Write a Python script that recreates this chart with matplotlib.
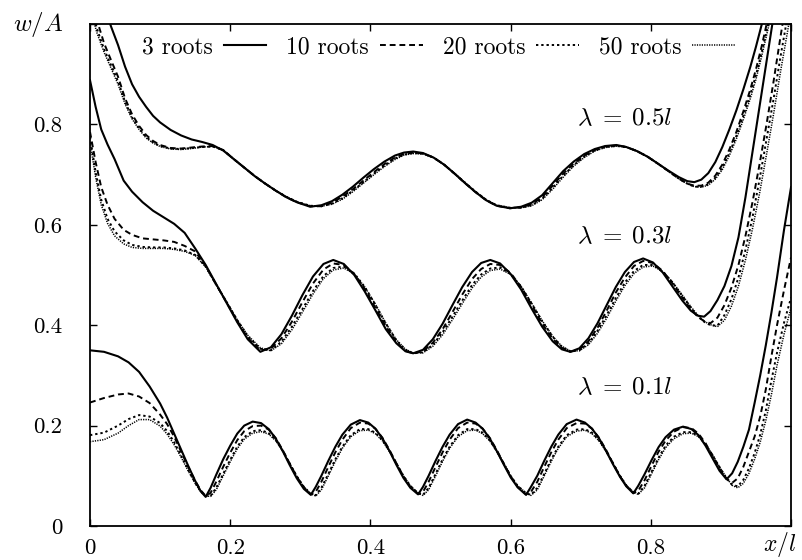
import matplotlib
matplotlib.use("Agg")
from matplotlib import pyplot as plt

plt.rcParams['font.family'] = 'cmr10'
plt.rcParams['mathtext.fontset'] = 'cm'
plt.rcParams['axes.unicode_minus'] = False

# lambda = 0.1 l
x1 = [0.000, 0.020, 0.040, 0.055, 0.070, 0.085, 0.100, 0.110, 0.120, 0.130,
      0.140, 0.150, 0.158, 0.165, 0.172, 0.180, 0.190, 0.200, 0.210, 0.220,
      0.232, 0.244, 0.255, 0.265, 0.275, 0.285, 0.295, 0.305, 0.315, 0.322,
      0.330, 0.340, 0.350, 0.360, 0.372, 0.385, 0.397, 0.407, 0.417, 0.427,
      0.437, 0.447, 0.457, 0.468, 0.475, 0.483, 0.493, 0.503, 0.513, 0.525,
      0.538, 0.550, 0.560, 0.570, 0.580, 0.590, 0.600, 0.610, 0.622, 0.629,
      0.638, 0.648, 0.658, 0.668, 0.680, 0.694, 0.706, 0.716, 0.726, 0.736,
      0.746, 0.756, 0.765, 0.775, 0.782, 0.791, 0.801, 0.811, 0.821, 0.833,
      0.846, 0.858, 0.868, 0.878, 0.888, 0.898, 0.908, 0.916, 0.924, 0.932,
      0.940, 0.948, 0.956, 0.964, 0.972, 0.980, 0.990, 1.000]
y3_01 = [0.350, 0.347, 0.338, 0.326, 0.307, 0.278, 0.244, 0.216, 0.184, 0.152,
         0.120, 0.090, 0.069, 0.058, 0.076, 0.102, 0.133, 0.160, 0.184, 0.200,
         0.208, 0.205, 0.193, 0.174, 0.149, 0.121, 0.095, 0.074, 0.062, 0.078,
         0.100, 0.130, 0.158, 0.182, 0.202, 0.211, 0.206, 0.194, 0.175, 0.150,
         0.122, 0.096, 0.076, 0.063, 0.078, 0.100, 0.130, 0.158, 0.182, 0.203,
         0.212, 0.206, 0.194, 0.175, 0.150, 0.123, 0.097, 0.077, 0.062, 0.078,
         0.100, 0.130, 0.158, 0.182, 0.203, 0.212, 0.206, 0.194, 0.175, 0.150,
         0.123, 0.098, 0.079, 0.065, 0.080, 0.103, 0.131, 0.157, 0.177, 0.192,
         0.198, 0.193, 0.181, 0.160, 0.135, 0.110, 0.093, 0.105, 0.128, 0.158,
         0.192, 0.245, 0.300, 0.360, 0.425, 0.495, 0.590, 0.675]
y10_01 = [0.246, 0.255, 0.262, 0.264, 0.258, 0.245, 0.222, 0.203, 0.178, 0.148,
          0.118, 0.090, 0.071, 0.060, 0.066, 0.088, 0.118, 0.146, 0.171, 0.189,
          0.199, 0.200, 0.192, 0.175, 0.151, 0.124, 0.098, 0.077, 0.063, 0.068,
          0.088, 0.118, 0.147, 0.172, 0.195, 0.206, 0.204, 0.194, 0.176, 0.152,
          0.125, 0.099, 0.078, 0.064, 0.068, 0.088, 0.118, 0.147, 0.172, 0.195,
          0.206, 0.204, 0.194, 0.176, 0.152, 0.125, 0.099, 0.078, 0.063, 0.068,
          0.088, 0.118, 0.147, 0.172, 0.195, 0.205, 0.204, 0.194, 0.176, 0.152,
          0.125, 0.099, 0.080, 0.066, 0.070, 0.091, 0.120, 0.148, 0.170, 0.188,
          0.197, 0.195, 0.184, 0.165, 0.140, 0.114, 0.094, 0.086, 0.095, 0.118,
          0.148, 0.178, 0.218, 0.272, 0.338, 0.400, 0.470, 0.535]
y20_01 = [0.181, 0.186, 0.200, 0.213, 0.221, 0.218, 0.205, 0.189, 0.167, 0.140,
          0.112, 0.086, 0.069, 0.060, 0.060, 0.076, 0.104, 0.132, 0.158, 0.177,
          0.189, 0.191, 0.185, 0.171, 0.150, 0.124, 0.099, 0.078, 0.064, 0.061,
          0.076, 0.104, 0.133, 0.158, 0.181, 0.193, 0.193, 0.186, 0.171, 0.150,
          0.125, 0.100, 0.080, 0.065, 0.062, 0.076, 0.104, 0.133, 0.158, 0.181,
          0.193, 0.193, 0.186, 0.171, 0.150, 0.125, 0.100, 0.080, 0.065, 0.062,
          0.076, 0.104, 0.133, 0.158, 0.181, 0.192, 0.193, 0.186, 0.171, 0.150,
          0.125, 0.100, 0.081, 0.067, 0.064, 0.080, 0.108, 0.136, 0.160, 0.178,
          0.187, 0.187, 0.179, 0.163, 0.141, 0.117, 0.095, 0.082, 0.079, 0.092,
          0.115, 0.145, 0.182, 0.230, 0.290, 0.345, 0.405, 0.455]
y50_01 = [0.168, 0.172, 0.185, 0.200, 0.212, 0.212, 0.199, 0.183, 0.162, 0.137,
          0.110, 0.085, 0.068, 0.060, 0.059, 0.072, 0.100, 0.128, 0.154, 0.173,
          0.185, 0.188, 0.183, 0.170, 0.149, 0.124, 0.099, 0.078, 0.064, 0.060,
          0.072, 0.100, 0.129, 0.155, 0.178, 0.190, 0.191, 0.184, 0.170, 0.149,
          0.125, 0.100, 0.080, 0.066, 0.061, 0.072, 0.100, 0.129, 0.155, 0.178,
          0.190, 0.191, 0.184, 0.170, 0.149, 0.125, 0.100, 0.080, 0.066, 0.061,
          0.072, 0.100, 0.129, 0.155, 0.178, 0.189, 0.191, 0.184, 0.170, 0.149,
          0.125, 0.100, 0.081, 0.068, 0.063, 0.076, 0.104, 0.132, 0.156, 0.174,
          0.184, 0.185, 0.178, 0.163, 0.142, 0.118, 0.096, 0.081, 0.076, 0.085,
          0.105, 0.133, 0.167, 0.210, 0.262, 0.320, 0.382, 0.435]

# lambda = 0.3 l
x3 = [0.000, 0.008, 0.016, 0.025, 0.035, 0.048, 0.060, 0.075, 0.090, 0.105,
      0.120, 0.135, 0.150, 0.165, 0.180, 0.195, 0.210, 0.225, 0.243, 0.258,
      0.273, 0.288, 0.303, 0.318, 0.333, 0.347, 0.362, 0.377, 0.392, 0.407,
      0.422, 0.437, 0.450, 0.461, 0.475, 0.489, 0.503, 0.517, 0.531, 0.545,
      0.558, 0.571, 0.585, 0.600, 0.615, 0.630, 0.645, 0.660, 0.673, 0.685,
      0.698, 0.711, 0.724, 0.737, 0.750, 0.763, 0.776, 0.789, 0.803, 0.817,
      0.831, 0.845, 0.857, 0.867, 0.876, 0.885, 0.895, 0.905, 0.915, 0.925,
      0.935, 0.945, 0.955, 0.965, 0.975, 0.985, 0.995, 1.000]
y3_03 = [0.888, 0.835, 0.790, 0.760, 0.731, 0.688, 0.666, 0.645, 0.628, 0.615,
         0.602, 0.584, 0.553, 0.520, 0.482, 0.444, 0.406, 0.372, 0.347, 0.356,
         0.382, 0.419, 0.460, 0.497, 0.522, 0.530, 0.522, 0.500, 0.467, 0.430,
         0.392, 0.364, 0.348, 0.344, 0.351, 0.372, 0.403, 0.440, 0.476, 0.506,
         0.524, 0.530, 0.523, 0.502, 0.471, 0.433, 0.397, 0.368, 0.352, 0.347,
         0.354, 0.374, 0.404, 0.440, 0.476, 0.506, 0.526, 0.533, 0.525, 0.505,
         0.477, 0.449, 0.429, 0.419, 0.417, 0.428, 0.450, 0.478, 0.518, 0.575,
         0.655, 0.745, 0.835, 0.925, 1.015, 1.100, 1.180, 1.220]
y10_03 = [0.785, 0.725, 0.675, 0.640, 0.612, 0.590, 0.580, 0.573, 0.571, 0.569,
          0.566, 0.558, 0.547, 0.518, 0.481, 0.445, 0.408, 0.375, 0.350, 0.353,
          0.374, 0.407, 0.446, 0.483, 0.511, 0.523, 0.520, 0.502, 0.472, 0.435,
          0.398, 0.366, 0.349, 0.344, 0.348, 0.365, 0.392, 0.426, 0.461, 0.492,
          0.512, 0.522, 0.520, 0.504, 0.476, 0.440, 0.403, 0.373, 0.355, 0.347,
          0.351, 0.368, 0.395, 0.429, 0.465, 0.495, 0.518, 0.528, 0.524, 0.508,
          0.483, 0.455, 0.432, 0.417, 0.408, 0.404, 0.415, 0.440, 0.475, 0.520,
          0.578, 0.645, 0.720, 0.800, 0.885, 0.975, 1.060, 1.100]
y20_03 = [0.775, 0.705, 0.650, 0.612, 0.587, 0.569, 0.560, 0.556, 0.555, 0.555,
          0.553, 0.549, 0.540, 0.517, 0.481, 0.446, 0.410, 0.378, 0.353, 0.350,
          0.367, 0.397, 0.432, 0.468, 0.498, 0.514, 0.517, 0.503, 0.476, 0.441,
          0.403, 0.370, 0.351, 0.344, 0.346, 0.361, 0.386, 0.417, 0.449, 0.480,
          0.501, 0.513, 0.515, 0.502, 0.477, 0.443, 0.408, 0.377, 0.357, 0.348,
          0.350, 0.364, 0.389, 0.420, 0.454, 0.485, 0.508, 0.520, 0.520, 0.507,
          0.485, 0.458, 0.435, 0.418, 0.407, 0.400, 0.399, 0.420, 0.452, 0.495,
          0.550, 0.615, 0.690, 0.770, 0.850, 0.935, 1.015, 1.055]
y50_03 = [0.765, 0.695, 0.640, 0.603, 0.578, 0.562, 0.555, 0.553, 0.553, 0.553,
          0.551, 0.547, 0.539, 0.516, 0.480, 0.446, 0.411, 0.380, 0.355, 0.349,
          0.363, 0.391, 0.426, 0.462, 0.493, 0.510, 0.514, 0.502, 0.476, 0.442,
          0.404, 0.371, 0.352, 0.345, 0.345, 0.358, 0.381, 0.411, 0.443, 0.474,
          0.496, 0.509, 0.512, 0.501, 0.477, 0.444, 0.409, 0.378, 0.358, 0.349,
          0.349, 0.361, 0.384, 0.414, 0.448, 0.479, 0.503, 0.516, 0.518, 0.507,
          0.486, 0.460, 0.437, 0.420, 0.408, 0.401, 0.397, 0.410, 0.438, 0.478,
          0.530, 0.592, 0.662, 0.740, 0.820, 0.905, 0.985, 1.025]

# lambda = 0.5 l
x5 = [0.000, 0.010, 0.020, 0.030, 0.040, 0.050, 0.060, 0.070, 0.080, 0.090,
      0.100, 0.115, 0.130, 0.145, 0.160, 0.175, 0.190, 0.205, 0.220, 0.235,
      0.250, 0.265, 0.280, 0.295, 0.314, 0.330, 0.345, 0.360, 0.375, 0.390,
      0.405, 0.420, 0.435, 0.448, 0.461, 0.475, 0.490, 0.505, 0.520, 0.535,
      0.550, 0.565, 0.580, 0.599, 0.615, 0.630, 0.645, 0.660, 0.675, 0.690,
      0.705, 0.720, 0.735, 0.751, 0.765, 0.780, 0.795, 0.810, 0.825, 0.840,
      0.852, 0.862, 0.872, 0.882, 0.892, 0.902, 0.912, 0.922, 0.932, 0.942,
      0.950, 0.958, 0.966, 0.974, 0.982, 0.990, 1.000]
y3_05 = [1.120, 1.080, 1.035, 0.995, 0.958, 0.915, 0.880, 0.855, 0.835, 0.817,
         0.804, 0.789, 0.778, 0.770, 0.765, 0.759, 0.748, 0.731, 0.714, 0.697,
         0.682, 0.668, 0.655, 0.645, 0.636, 0.639, 0.647, 0.660, 0.676, 0.694,
         0.711, 0.726, 0.738, 0.744, 0.746, 0.743, 0.734, 0.720, 0.702, 0.683,
         0.665, 0.649, 0.638, 0.633, 0.636, 0.644, 0.659, 0.683, 0.707, 0.726,
         0.741, 0.751, 0.757, 0.759, 0.755, 0.747, 0.736, 0.722, 0.708, 0.695,
         0.687, 0.685, 0.690, 0.703, 0.725, 0.755, 0.790, 0.828, 0.870, 0.915,
         0.955, 0.998, 1.045, 1.090, 1.140, 1.190, 1.250]
y10_05 = [1.060, 1.007, 0.962, 0.928, 0.895, 0.852, 0.820, 0.797, 0.779, 0.767,
          0.759, 0.753, 0.752, 0.754, 0.756, 0.757, 0.749, 0.731, 0.714, 0.697,
          0.682, 0.668, 0.655, 0.645, 0.637, 0.637, 0.644, 0.656, 0.671, 0.688,
          0.705, 0.721, 0.734, 0.741, 0.744, 0.742, 0.734, 0.720, 0.702, 0.683,
          0.665, 0.649, 0.638, 0.633, 0.635, 0.641, 0.655, 0.678, 0.702, 0.722,
          0.738, 0.749, 0.756, 0.758, 0.755, 0.747, 0.736, 0.722, 0.707, 0.692,
          0.682, 0.678, 0.678, 0.684, 0.698, 0.720, 0.750, 0.785, 0.826, 0.870,
          0.910, 0.955, 1.005, 1.055, 1.105, 1.155, 1.215]
y20_05 = [1.040, 0.990, 0.950, 0.918, 0.886, 0.845, 0.814, 0.792, 0.775, 0.764,
          0.757, 0.752, 0.751, 0.753, 0.755, 0.756, 0.749, 0.731, 0.714, 0.697,
          0.682, 0.668, 0.656, 0.646, 0.638, 0.637, 0.642, 0.653, 0.668, 0.685,
          0.702, 0.718, 0.732, 0.740, 0.743, 0.742, 0.734, 0.720, 0.702, 0.684,
          0.666, 0.650, 0.639, 0.634, 0.634, 0.639, 0.652, 0.674, 0.698, 0.719,
          0.736, 0.748, 0.755, 0.757, 0.755, 0.747, 0.736, 0.722, 0.707, 0.692,
          0.682, 0.676, 0.676, 0.681, 0.694, 0.714, 0.743, 0.777, 0.817, 0.860,
          0.898, 0.943, 0.992, 1.042, 1.092, 1.142, 1.200]
y50_05 = [1.030, 0.982, 0.944, 0.912, 0.880, 0.841, 0.811, 0.790, 0.773, 0.763,
          0.756, 0.751, 0.750, 0.752, 0.755, 0.756, 0.749, 0.731, 0.714, 0.697,
          0.682, 0.668, 0.656, 0.646, 0.638, 0.637, 0.641, 0.651, 0.666, 0.683,
          0.700, 0.716, 0.730, 0.739, 0.742, 0.741, 0.734, 0.720, 0.703, 0.684,
          0.666, 0.650, 0.639, 0.634, 0.634, 0.638, 0.650, 0.671, 0.695, 0.717,
          0.734, 0.747, 0.754, 0.757, 0.755, 0.747, 0.736, 0.722, 0.707, 0.692,
          0.682, 0.676, 0.675, 0.679, 0.691, 0.710, 0.738, 0.771, 0.810, 0.852,
          0.890, 0.935, 0.983, 1.033, 1.083, 1.133, 1.190]

labels = ['3 roots', '10 roots', '20 roots', '50 roots']
styles = [('-', 1.5), ((0, (3, 2)), 1.4), ((0, (1.2, 1.5)), 1.4), ((0, (0.8, 0.8)), 1.1)]
groups = [(x5, [y3_05, y10_05, y20_05, y50_05], r'$\lambda\;=\;0.5l$', 0.81),
          (x3, [y3_03, y10_03, y20_03, y50_03], r'$\lambda\;=\;0.3l$', 0.575),
          (x1, [y3_01, y10_01, y20_01, y50_01], r'$\lambda\;=\;0.1l$', 0.275)]

fig = plt.figure(figsize=(8.03, 5.6), dpi=100)
ax = fig.add_axes([0.1121, 0.0607, 0.8730, 0.8964])

for gi, (xs, ys, name, ty) in enumerate(groups):
    for k in range(4):
        ls, lw = styles[k]
        ax.plot(xs, ys[k], color='black', linestyle=ls, linewidth=lw,
                label=labels[k] if gi == 0 else None)
    ax.text(0.695, ty, name, fontsize=18, va='center', ha='left')

ax.set_xlim(0, 1)
ax.set_ylim(0, 1)
ax.set_xticks([0, 0.2, 0.4, 0.6, 0.8, 1.0])
ax.set_xticklabels(['0', '0.2', '0.4', '0.6', '0.8', ''])
ax.set_yticks([0, 0.2, 0.4, 0.6, 0.8, 1.0])
ax.set_yticklabels(['0', '0.2', '0.4', '0.6', '0.8', ''])
ax.tick_params(direction='in', top=True, right=True, length=5, width=1,
               labelsize=16.5)
ax.tick_params(axis='x', pad=9)
ax.tick_params(axis='y', pad=20)
for s in ax.spines.values():
    s.set_linewidth(1.3)

ax.text(-0.11, 1.0, r'$w/A$', transform=ax.transAxes, fontsize=18,
        ha='left', va='center')
ax.text(1.008, -0.05, r'$x/l$', transform=ax.transAxes, fontsize=17,
        ha='right', va='baseline')

ax.legend(loc='upper left', bbox_to_anchor=(0.074, 0.975), ncol=4, frameon=False,
          markerfirst=False, fontsize=17, handlelength=1.8, handletextpad=0.47,
          columnspacing=0.85, borderaxespad=0, borderpad=0)

fig.savefig('out.png', dpi=100)
